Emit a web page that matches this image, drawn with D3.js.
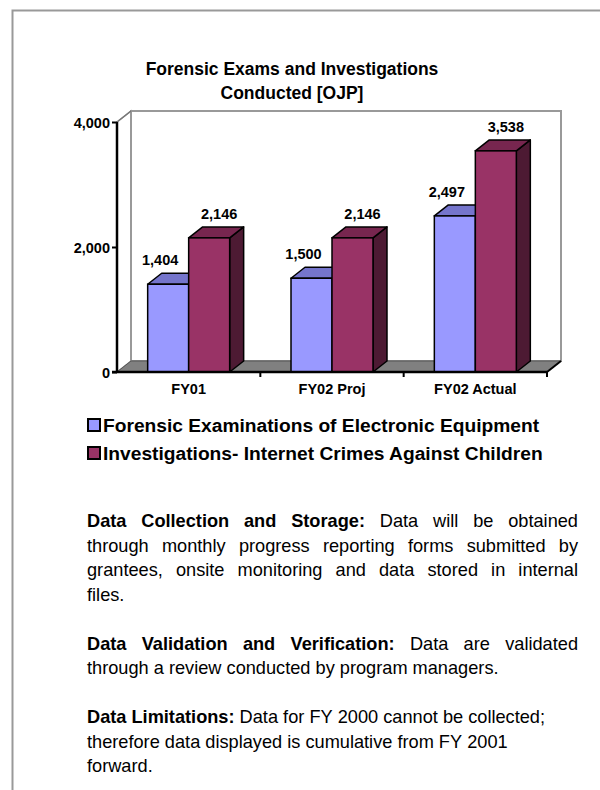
<!DOCTYPE html>
<html>
<head>
<meta charset="utf-8">
<script src="https://cdn.jsdelivr.net/npm/d3@7"></script>
<style>
  html, body { margin: 0; padding: 0; background: #fff; }
  svg { display: block; font-family: "Liberation Sans", Arial, Helvetica, sans-serif; }
</style>
</head>
<body>
<svg id="chart" width="600" height="790"></svg>
<script>
// ---------- data ----------
const titleLines = ["Forensic Exams and Investigations", "Conducted [OJP]"];
const categories = ["FY01", "FY02 Proj", "FY02 Actual"];
const seriesNames = ["Forensic Examinations of Electronic Equipment", "Investigations- Internet Crimes Against Children"];
const forensicExams = [1404, 1500, 2497];
const investigations = [2146, 2146, 3538];
const yTickValues = [0, 2000, 4000];
const paragraphs = [
  { lines: [
      { bold: "Data Collection and Storage:", text: " Data will be obtained", justify: true },
      { text: "through monthly progress reporting forms submitted by", justify: true },
      { text: "grantees, onsite monitoring and data stored in internal", justify: true },
      { text: "files.", justify: false } ] },
  { lines: [
      { bold: "Data Validation and Verification:", text: " Data are validated", justify: true },
      { text: "through a review conducted by program managers.", justify: false } ] },
  { lines: [
      { bold: "Data Limitations:", text: " Data for FY 2000 cannot be collected;", justify: false },
      { text: "therefore data displayed is cumulative from FY 2001", justify: false },
      { text: "forward.", justify: false } ] }
];

// ---------- styling ----------
const seriesValues = [forensicExams, investigations];
const palette = [
  { front: "#9999FF", top: "#7575CC", side: "#5C5C99" },
  { front: "#993366", top: "#77264F", side: "#4D1A33" }
];
const depth = { dx: 14, dy: -11 };

const svg = d3.select("#chart");

// page frame
svg.append("path")
  .attr("d", "M12.5,790 L12.5,10.5 L600,10.5")
  .attr("fill", "none").attr("stroke", "#999").attr("stroke-width", 2);

// title
svg.append("text")
  .attr("text-anchor", "middle").attr("font-weight", "bold").attr("font-size", 17.5)
  .selectAll("tspan").data(titleLines).join("tspan")
  .attr("x", 292).attr("y", (d, i) => 75 + i * 24).text(d => d);

// scales
const x0 = 117, x1 = 547;
const x = d3.scaleBand().domain(categories).range([x0, x1]).paddingInner(0.428).paddingOuter(0.214);
const xs = d3.scaleBand().domain(d3.range(seriesNames.length)).range([0, x.bandwidth()]).padding(0);
const y = d3.scaleLinear().domain([0, 4000]).range([372, 122]);

const g = svg.append("g");

// walls & floor
const yTop = y(4000), yBot = y(0);
g.append("path")
  .attr("d", `M${x0},${yTop} L${x0 + depth.dx},${yTop + depth.dy} L${x0 + depth.dx},${yBot + depth.dy} L${x0},${yBot} Z`)
  .attr("fill", "#fff").attr("stroke", "#999").attr("stroke-width", 1.5);
g.append("rect")
  .attr("x", x0 + depth.dx).attr("y", yTop + depth.dy)
  .attr("width", x1 - x0).attr("height", yBot - yTop)
  .attr("fill", "#fff").attr("stroke", "#999").attr("stroke-width", 2);
g.append("path")
  .attr("d", `M${x0},${yBot} L${x1},${yBot} L${x1 + depth.dx},${yBot + depth.dy} L${x0 + depth.dx},${yBot + depth.dy} Z`)
  .attr("fill", "#808080").attr("stroke", "#555").attr("stroke-width", 1);
g.append("line")
  .attr("x1", x1).attr("y1", yBot).attr("x2", x1 + depth.dx).attr("y2", yBot + depth.dy)
  .attr("stroke", "#000").attr("stroke-width", 2);
g.append("line")
  .attr("x1", x0).attr("y1", yTop).attr("x2", x0 + depth.dx).attr("y2", yTop + depth.dy)
  .attr("stroke", "#777").attr("stroke-width", 1.5);

// bars
categories.forEach((cat, ci) => {
  seriesValues.forEach((vals, si) => {
    const v = vals[ci];
    const bx0 = x(cat) + xs(si), bx1 = bx0 + xs.bandwidth();
    const by = y(v), b0 = y(0);
    const c = palette[si];
    const bar = g.append("g");
    bar.append("path")
      .attr("d", `M${bx1},${by} L${bx1 + depth.dx},${by + depth.dy} L${bx1 + depth.dx},${b0 + depth.dy} L${bx1},${b0} Z`)
      .attr("fill", c.side).attr("stroke", "#000").attr("stroke-width", 1.5).attr("stroke-linejoin", "round");
    bar.append("path")
      .attr("d", `M${bx0},${by} L${bx1},${by} L${bx1 + depth.dx},${by + depth.dy} L${bx0 + depth.dx},${by + depth.dy} Z`)
      .attr("fill", c.top).attr("stroke", "#000").attr("stroke-width", 1.5).attr("stroke-linejoin", "round");
    bar.append("rect")
      .attr("x", bx0).attr("y", by).attr("width", bx1 - bx0).attr("height", b0 - by)
      .attr("fill", c.front).attr("stroke", "#000").attr("stroke-width", 1.5);
  });
});

// data labels
const fmt = d3.format(",");
categories.forEach((cat, ci) => {
  seriesValues.forEach((vals, si) => {
    const v = vals[ci];
    const cx = x(cat) + xs(si) + xs.bandwidth() / 2 + (si === 0 ? -8 : 10);
    svg.append("text")
      .attr("x", cx).attr("y", y(v) - 19)
      .attr("text-anchor", "middle").attr("font-weight", "bold").attr("font-size", 14.5)
      .text(fmt(v));
  });
});

// y axis
const yAxis = svg.append("g").attr("transform", `translate(${x0},0)`)
  .call(d3.axisLeft(y).tickValues(yTickValues).tickFormat(fmt).tickSize(5).tickPadding(2));
yAxis.select(".domain").attr("stroke", "#000").attr("stroke-width", 2.5).attr("d", `M0,${yTop}V${yBot}`);
yAxis.selectAll(".tick line").attr("stroke", "#000").attr("stroke-width", 2);
yAxis.selectAll(".tick text").attr("font-family", "Liberation Sans, Arial, sans-serif")
  .attr("font-size", 14.5).attr("font-weight", "bold").attr("fill", "#000").attr("dy", "0.36em");

// x axis
const xAxis = svg.append("g").attr("transform", `translate(0,${yBot})`)
  .call(d3.axisBottom(x).tickSize(0).tickPadding(12));
xAxis.select(".domain").attr("stroke", "#000").attr("stroke-width", 2.5).attr("d", `M${x0 - 5},0H${x1}`);
xAxis.selectAll(".tick text").attr("font-family", "Liberation Sans, Arial, sans-serif")
  .attr("font-size", 14.5).attr("font-weight", "bold").attr("fill", "#000");
xAxis.selectAll(".bound").data(d3.range(1, categories.length + 1)).join("line")
  .attr("class", "bound")
  .attr("x1", i => x0 + i * x.step()).attr("x2", i => x0 + i * x.step())
  .attr("y1", 0).attr("y2", 5).attr("stroke", "#000").attr("stroke-width", 2);

// legend
const legend = svg.append("g");
seriesNames.forEach((name, i) => {
  const ly = 432 + i * 28;
  legend.append("rect")
    .attr("x", 88).attr("y", ly - 13).attr("width", 12).attr("height", 12)
    .attr("fill", palette[i].front).attr("stroke", "#000").attr("stroke-width", 2);
  legend.append("text")
    .attr("x", 103).attr("y", ly).attr("font-weight", "bold").attr("font-size", 19.2)
    .text(name);
});

// body text
const left = 87, right = 578, lineH = 24.5;
let by = 527;
paragraphs.forEach((p) => {
  p.lines.forEach((ln) => {
    const words = [];
    if (ln.bold) ln.bold.split(" ").forEach(w => words.push({ w, b: true }));
    ln.text.trim().split(" ").forEach(w => words.push({ w, b: false }));
    const t = svg.append("text").attr("y", by).attr("font-size", 18.2).attr("fill", "#000");
    const spans = words.map(o => t.append("tspan").attr("font-weight", o.b ? "bold" : "normal").text(o.w));
    const widths = spans.map(s => s.node().getComputedTextLength());
    const total = d3.sum(widths);
    const space = ln.justify ? (right - left - total) / (words.length - 1) : 18.2 * 0.278;
    let cx = left;
    spans.forEach((s, i) => { s.attr("x", cx); cx += widths[i] + space; });
    by += lineH;
  });
  by += lineH;
});
</script>
</body>
</html>
